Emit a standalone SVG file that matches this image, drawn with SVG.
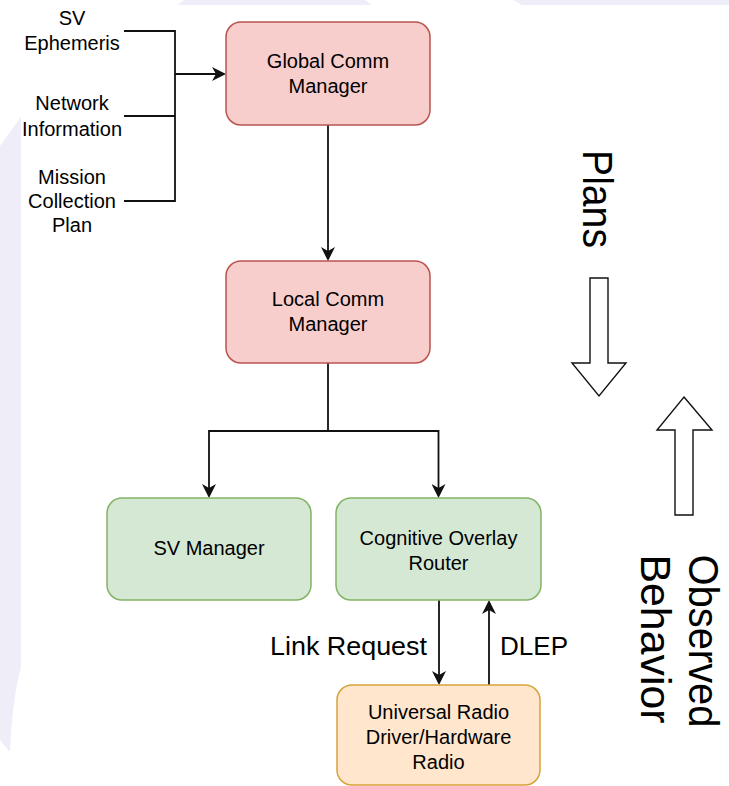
<svg xmlns="http://www.w3.org/2000/svg" width="729" height="786" viewBox="0 0 729 786">
  <defs>
    <style>
      text { font-family: "Liberation Sans", Arial, Helvetica, sans-serif; fill: #000; }
      .node-text { font-size: 20px; text-anchor: middle; }
      .in-text { font-size: 20px; text-anchor: middle; }
      .edge-label { font-size: 25px; }
      .big { font-size: 42px; }
      .wire { fill: none; stroke: #111; stroke-width: 1.8; }
      .pink { fill: #f8cecc; stroke: #b85450; stroke-width: 1.5; }
      .green { fill: #d5e8d4; stroke: #82b366; stroke-width: 1.5; }
      .orange { fill: #ffe6cc; stroke: #d6a33a; stroke-width: 1.5; }
      .block { fill: #fff; stroke: #111; stroke-width: 1.4; stroke-linejoin: miter; }
      .backdrop { fill: #eeedf8; }
    </style>
    <marker id="arrow" markerUnits="userSpaceOnUse" markerWidth="14" markerHeight="14" refX="11" refY="7" orient="auto">
      <path d="M0,0 L14,7 L0,14 L4,7 Z" fill="#111"/>
    </marker>
  </defs>

  <rect width="729" height="786" fill="#fff"/>

  <!-- backdrop bands -->
  <g id="backdrop">
    <polygon class="backdrop" points="178,5 184,0 365,0 372,5"/>
    <polygon class="backdrop" points="513,0 729,0 729,5 522,5"/>
    <path class="backdrop" d="M0,146 L21,117 L21,667 Q12,700 10,752 L0,740 Z"/>
  </g>

  <!-- connectors -->
  <g id="connectors">
    <path class="wire" d="M124,31 H175 V201 H124 M124,116 H175"/>
    <path class="wire" d="M175,74 H223" marker-end="url(#arrow)"/>
    <path class="wire" d="M328,125 V258" marker-end="url(#arrow)"/>
    <path class="wire" d="M328,363 V431 H209 V495" marker-end="url(#arrow)"/>
    <path class="wire" d="M328,431 H438.5 V495" marker-end="url(#arrow)"/>
    <path class="wire" d="M439,600 V682" marker-end="url(#arrow)"/>
    <path class="wire" d="M489,685 V603" marker-end="url(#arrow)"/>
  </g>

  <!-- input labels -->
  <g id="inputs">
    <text class="in-text" x="72" y="25">SV</text>
    <text class="in-text" x="72" y="50">Ephemeris</text>
    <text class="in-text" x="72" y="110">Network</text>
    <text class="in-text" x="72" y="136">Information</text>
    <text class="in-text" x="72" y="184">Mission</text>
    <text class="in-text" x="72" y="208">Collection</text>
    <text class="in-text" x="72" y="232">Plan</text>
  </g>

  <g id="global-comm-manager">
    <rect class="pink" x="226" y="22" width="204" height="103" rx="15"/>
    <text class="node-text" x="328" y="68">Global Comm</text>
    <text class="node-text" x="328" y="93">Manager</text>
  </g>

  <g id="local-comm-manager">
    <rect class="pink" x="226" y="261" width="204" height="102" rx="15"/>
    <text class="node-text" x="328" y="306">Local Comm</text>
    <text class="node-text" x="328" y="331">Manager</text>
  </g>

  <g id="sv-manager">
    <rect class="green" x="107" y="498" width="204" height="102" rx="15"/>
    <text class="node-text" x="209" y="555">SV Manager</text>
  </g>

  <g id="cognitive-overlay-router">
    <rect class="green" x="336" y="498" width="205" height="102" rx="15"/>
    <text class="node-text" x="438.5" y="545">Cognitive Overlay</text>
    <text class="node-text" x="438.5" y="570">Router</text>
  </g>

  <g id="universal-radio">
    <rect class="orange" x="337" y="685" width="203" height="100" rx="15"/>
    <text class="node-text" x="438.5" y="719">Universal Radio</text>
    <text class="node-text" x="438.5" y="744">Driver/Hardware</text>
    <text class="node-text" x="438.5" y="769">Radio</text>
  </g>

  <!-- edge labels -->
  <g id="edge-labels">
    <text class="edge-label" x="270" y="655" textLength="157" lengthAdjust="spacingAndGlyphs">Link Request</text>
    <text class="edge-label" x="500" y="655" textLength="68" lengthAdjust="spacingAndGlyphs">DLEP</text>
  </g>

  <!-- flow direction legend -->
  <g id="plans">
    <text class="big" transform="translate(583,150) rotate(90)" textLength="98" lengthAdjust="spacingAndGlyphs">Plans</text>
    <polygon class="block" points="590,278 608,278 608,363 626,363 599,396 572,363 590,363"/>
  </g>

  <g id="observed-behavior">
    <polygon class="block" points="684,397 712,430 693,430 693,515 675,515 675,430 657,430"/>
    <text class="big" transform="translate(689,641) rotate(90)" text-anchor="middle" textLength="173" lengthAdjust="spacingAndGlyphs">Observed</text>
    <text class="big" transform="translate(641,639) rotate(90)" text-anchor="middle" textLength="169" lengthAdjust="spacingAndGlyphs">Behavior</text>
  </g>
</svg>
